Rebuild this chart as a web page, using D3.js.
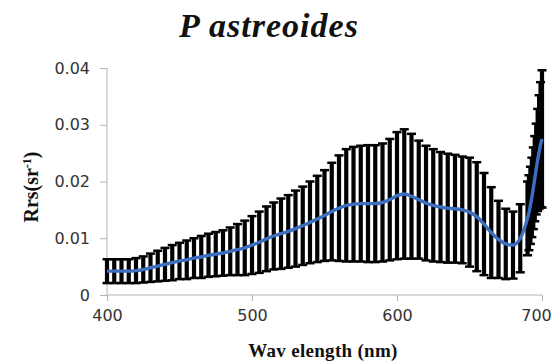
<!DOCTYPE html>
<html>
<head>
<meta charset="utf-8">
<script src="https://cdn.jsdelivr.net/npm/d3@7/dist/d3.min.js"></script>
<style>
  html, body { margin: 0; padding: 0; background: #fff; }
  svg { display: block; }
</style>
</head>
<body>
<svg id="chart" width="554" height="361"></svg>
<script>
// ---- data ----
const wavelengths = [400,405,410,415,420,425,430,435,440,445,450,455,460,465,470,475,480,485,490,495,
  500,505,510,515,520,525,530,535,540,545,550,555,560,565,570,575,580,585,590,595,
  600,605,610,615,620,625,630,635,640,645,650,655,660,665,670,675,680,685,690,
  691,692,693,694,695,696,697,698,699,700];
const meanRrs = [0.0042,0.0042,0.0042,0.0042,0.0043,0.0045,0.0048,0.0051,0.0054,0.0057,0.0060,0.0062,0.0065,0.0067,0.0070,0.0072,0.0074,0.0077,0.0080,0.0083,
  0.0088,0.0093,0.0099,0.0104,0.0108,0.0112,0.0117,0.0122,0.0128,0.0134,0.0140,0.0147,0.0153,0.0158,0.0160,0.0161,0.0161,0.0161,0.0163,0.0168,
  0.0175,0.0178,0.0174,0.0168,0.0162,0.0158,0.0155,0.0153,0.0152,0.0150,0.0146,0.0138,0.0125,0.0110,0.0098,0.0090,0.0088,0.0100,0.0135,
  0.0145,0.0158,0.0172,0.0188,0.0205,0.0222,0.0238,0.0252,0.0265,0.0275];
const sdRrs = [0.0021,0.0021,0.0021,0.0021,0.0022,0.0023,0.0025,0.0027,0.0029,0.0031,0.0032,0.0034,0.0035,0.0037,0.0038,0.0039,0.0040,0.0042,0.0045,0.0048,
  0.0051,0.0054,0.0057,0.0059,0.0062,0.0064,0.0067,0.0069,0.0072,0.0076,0.0080,0.0086,0.0093,0.0099,0.0101,0.0102,0.0103,0.0103,0.0104,0.0107,
  0.0112,0.0114,0.0110,0.0104,0.0101,0.0099,0.0097,0.0096,0.0095,0.0094,0.0096,0.0096,0.0090,0.0080,0.0068,0.0062,0.0059,0.0060,0.0065,
  0.0066,0.0068,0.0070,0.0072,0.0075,0.0080,0.0090,0.0100,0.0110,0.0121];
const xTicks = [400, 500, 600, 700];
const yTicks = [0, 0.01, 0.02, 0.03, 0.04];
const yTickLabels = ["0", "0.01", "0.02", "0.03", "0.04"];
const titleText = "P astreoides";
const xLabel = "Wav elength (nm)";

// ---- layout ----
const svg = d3.select("#chart");
const x = d3.scaleLinear().domain([400, 700]).range([107, 542]);
const y = d3.scaleLinear().domain([0, 0.04]).range([295, 68]);
const axisColor = "#b3b3b3";

const data = wavelengths.map((w, i) => ({ w, m: meanRrs[i], s: sdRrs[i] }));

// title
svg.append("text")
  .attr("x", 269).attr("y", 37)
  .attr("text-anchor", "middle")
  .style("font-family", "'Liberation Serif', 'Times New Roman', serif")
  .style("font-style", "italic").style("font-weight", "bold")
  .style("font-size", "34px").style("letter-spacing", "1px").attr("fill", "#111")
  .text(titleText);

// y axis
const yAxis = svg.append("g").attr("transform", "translate(107,0)")
  .call(d3.axisLeft(y).tickValues(yTicks).tickFormat((d, i) => yTickLabels[i]).tickSize(7).tickPadding(10));
yAxis.select(".domain").attr("stroke", axisColor).attr("d", `M0,${y(0)}V${y(0.04)}`);
yAxis.selectAll(".tick line").attr("stroke", axisColor);
yAxis.selectAll(".tick text")
  .style("font-family", "'DejaVu Sans', sans-serif").style("font-size", "16px")
  .attr("fill", "#333");

// x axis
const xAxis = svg.append("g").attr("transform", `translate(0,${y(0)})`)
  .call(d3.axisBottom(x).tickValues(xTicks).tickFormat(d3.format("d")).tickSize(6).tickPadding(9));
xAxis.select(".domain").attr("stroke", axisColor).attr("d", `M${x(400)},0H${x(700)}`);
xAxis.selectAll(".tick line").attr("stroke", axisColor);
xAxis.selectAll(".tick text")
  .style("font-family", "'DejaVu Sans', sans-serif").style("font-size", "16px")
  .attr("fill", "#333")
  .attr("dx", d => d === 700 ? -6 : 0);

// error bars
const eb = svg.append("g");
eb.selectAll("line.v").data(data).join("line").attr("class", "v")
  .attr("x1", d => x(d.w)).attr("x2", d => x(d.w))
  .attr("y1", d => y(d.m + d.s)).attr("y2", d => y(d.m - d.s))
  .attr("stroke", "#000").attr("stroke-width", 4.2);
eb.selectAll("line.cu").data(data).join("line").attr("class", "cu")
  .attr("x1", d => x(d.w) - 4.5).attr("x2", d => x(d.w) + 4.5)
  .attr("y1", d => y(d.m + d.s)).attr("y2", d => y(d.m + d.s))
  .attr("stroke", "#000").attr("stroke-width", 2.5);
eb.selectAll("line.cl").data(data).join("line").attr("class", "cl")
  .attr("x1", d => x(d.w) - 4.5).attr("x2", d => x(d.w) + 4.5)
  .attr("y1", d => y(d.m - d.s)).attr("y2", d => y(d.m - d.s))
  .attr("stroke", "#000").attr("stroke-width", 2.5);

// mean line
const line = d3.line().x(d => x(d.w)).y(d => y(d.m)).curve(d3.curveMonotoneX);
svg.append("path").datum(data)
  .attr("d", line).attr("fill", "none")
  .attr("stroke", "#3d6fc0").attr("stroke-width", 3.4);

// y label
svg.append("text")
  .attr("transform", "translate(38,187) rotate(-90)")
  .attr("text-anchor", "middle")
  .style("font-family", "'Liberation Serif', 'Times New Roman', serif")
  .style("font-weight", "bold").style("font-size", "20px").attr("fill", "#111")
  .html('Rrs(sr<tspan baseline-shift="super" font-size="12px">-1</tspan>)');

// x label
svg.append("text")
  .attr("x", 323).attr("y", 357)
  .attr("text-anchor", "middle")
  .style("font-family", "'Liberation Serif', 'Times New Roman', serif")
  .style("font-weight", "bold").style("font-size", "19px").style("letter-spacing", "0.3px").attr("fill", "#111")
  .text(xLabel);
</script>
</body>
</html>
